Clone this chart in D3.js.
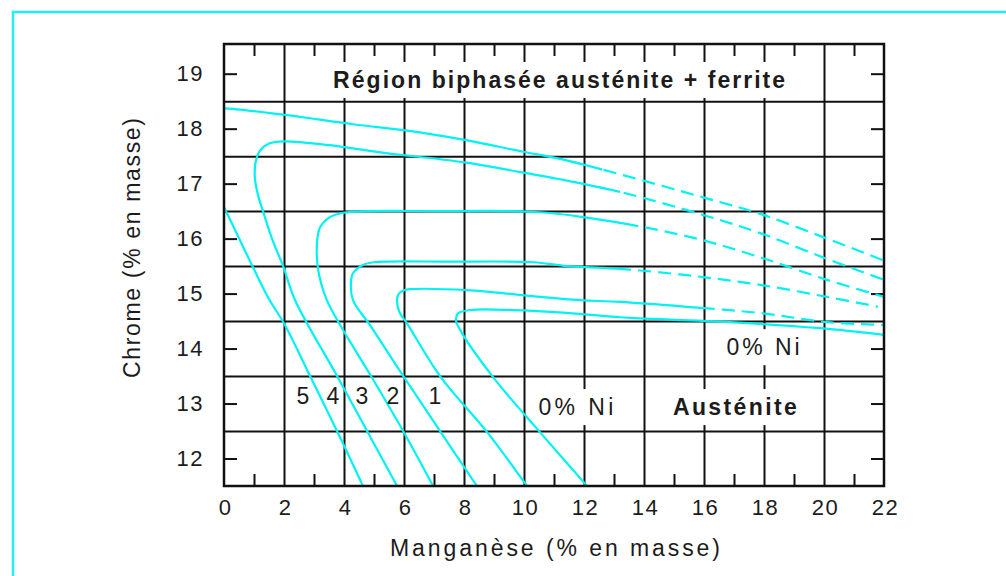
<!DOCTYPE html>
<html>
<head>
<meta charset="utf-8">
<title>Chrome - Manganèse</title>
<script src="https://cdn.jsdelivr.net/npm/d3@7"></script>
<style>
  body { margin: 0; background: #fff; }
  svg text { font-family: "Liberation Sans", Arial, sans-serif; fill: #1c1c1c; }
</style>
</head>
<body>
<script>
// axis values
var mnLabels = [0, 2, 4, 6, 8, 10, 12, 14, 16, 18, 20, 22];
var mnMinor = [1, 3, 5, 7, 9, 11, 13, 15, 17, 19, 21];
var mnGrid = [2, 4, 6, 8, 10, 12, 14, 16, 18, 20];
var crLabels = [12, 13, 14, 15, 16, 17, 18, 19];
var crGrid = [12.5, 13.5, 14.5, 15.5, 16.5, 17.5, 18.5];

// iso-nickel curves, [Mn, Cr] (5% Ni nose lies left of the frame)
var ni5 = [[4.63, 11.5], [3.9, 12.35], [2.87, 13.5], [2.03, 14.43], [1.5, 14.9], [0.93, 15.52], [0, 16.57],
  [-0.7, 17.3], [-0.9, 17.95], [-0.5, 18.36], [0, 18.37], [2.03, 18.25], [4.3, 18.08], [6.3, 17.95], [7.97, 17.8],
  [9.97, 17.58], [11.2, 17.45], [13.2, 17.17], [15.97, 16.75], [17.87, 16.45], [20.1, 16.0], [22, 15.6]];
var ni4 = [[5.77, 11.5], [4.77, 12.5], [3.77, 13.5], [2.37, 14.88], [1.97, 15.5], [1.6, 16.0], [1.3, 16.5],
  [1.13, 16.8], [1.03, 17.1], [1.05, 17.38], [1.2, 17.6], [1.5, 17.73], [2.0, 17.77], [3.5, 17.7],
  [5.2, 17.57], [7.97, 17.39], [9.97, 17.2], [11.2, 17.08], [13.2, 16.85], [15.97, 16.43],
  [17.87, 16.1], [20.1, 15.63], [22, 15.25]];
var ni3 = [[6.97, 11.5], [5.97, 12.5], [4.9, 13.5], [3.9, 14.4], [3.43, 14.88], [3.15, 15.4], [3.1, 15.92],
  [3.2, 16.2], [3.53, 16.39], [3.97, 16.47], [4.87, 16.5], [7, 16.5], [9.5, 16.5], [10.77, 16.47],
  [11.97, 16.39], [13.97, 16.21], [15.97, 15.97], [17.87, 15.66], [20.1, 15.25], [22, 14.94]];
var ni2 = [[8.43, 11.5], [7.2, 12.5], [6.0, 13.48], [4.9, 14.4], [4.3, 14.88], [4.23, 15.19], [4.3, 15.37],
  [4.63, 15.52], [5.0, 15.57], [7.5, 15.58], [10.3, 15.57], [11.43, 15.5], [12.53, 15.47],
  [13.87, 15.42], [15.97, 15.3], [17.97, 15.15], [20.1, 14.94], [21.8, 14.76]];
var ni1 = [[10.1, 11.5], [8.77, 12.48], [7.2, 13.5], [6.1, 14.46], [5.85, 14.66], [5.77, 14.9], [5.83, 15.0],
  [6.0, 15.06], [6.2, 15.08], [8.2, 15.06], [9.43, 15.0], [10.53, 14.94], [11.87, 14.88],
  [13.2, 14.85], [15.43, 14.76], [17.97, 14.64], [20.1, 14.48], [22, 14.43]];
var ni0 = [[12.1, 11.5], [10.53, 12.48], [8.97, 13.48], [7.87, 14.34], [7.73, 14.52], [7.8, 14.64],
  [8.2, 14.7], [9.63, 14.7], [11.43, 14.65], [13.2, 14.57], [13.87, 14.55], [16.87, 14.48],
  [19.87, 14.37], [22, 14.25]];
var curves = [ni5, ni4, ni3, ni2, ni1, ni0];
// Mn value where each curve turns dashed (null = solid all along)
var dashFrom = [12.6, 13.2, 13.8, 13.5, 16.0, null];

var niNames = ["5", "4", "3", "2", "1", "0% Ni"];

var svg = d3.select("body").append("svg")
  .attr("width", 1006).attr("height", 576);

// outer cyan frame
svg.append("rect")
  .attr("x", 13).attr("y", 12).attr("width", 1010).attr("height", 600)
  .attr("fill", "none").attr("stroke", "#22f0f0").attr("stroke-width", 2.5);

var x = d3.scaleLinear().domain([0, 22]).range([224, 884]);
var y = d3.scaleLinear().domain([11.5, 19.54]).range([486, 44]);
var pTop = y(19.54), pBottom = y(11.5), pLeft = x(0), pRight = x(22);

function styleAxis(g) {
  g.select(".domain").remove();
  g.selectAll("line").attr("stroke", "#111").attr("stroke-width", 2);
  g.attr("font-family", null).attr("font-size", null);
  g.selectAll("text").style("font-size", "22px").attr("letter-spacing", 1.5).attr("fill", "#1c1c1c");
}

// grid
svg.append("g").attr("transform", "translate(0," + pBottom + ")")
  .call(d3.axisBottom(x).tickValues(mnGrid).tickSize(-(pBottom - pTop)).tickFormat(""))
  .call(styleAxis);
svg.append("g").attr("transform", "translate(" + pLeft + ",0)")
  .call(d3.axisLeft(y).tickValues(crGrid).tickSize(-(pRight - pLeft)).tickFormat(""))
  .call(styleAxis);

// minor / integer ticks
svg.append("g").attr("transform", "translate(0," + pBottom + ")")
  .call(d3.axisBottom(x).tickValues(mnMinor).tickSize(-12).tickFormat(""))
  .call(styleAxis);
svg.append("g").attr("transform", "translate(0," + pTop + ")")
  .call(d3.axisTop(x).tickValues(mnMinor).tickSize(-12).tickFormat(""))
  .call(styleAxis);
svg.append("g").attr("transform", "translate(" + pLeft + ",0)")
  .call(d3.axisLeft(y).tickValues(crLabels).tickSize(-13).tickPadding(20))
  .call(styleAxis);
svg.append("g").attr("transform", "translate(" + pRight + ",0)")
  .call(d3.axisRight(y).tickValues(crLabels).tickSize(-13).tickFormat(""))
  .call(styleAxis);
svg.append("g").attr("transform", "translate(0," + pBottom + ")")
  .call(d3.axisBottom(x).tickValues(mnLabels).tickSize(0).tickPadding(13))
  .call(styleAxis)
  .selectAll("text").attr("dx", 1);

// label boxes go under the curves, text goes on top
var boxLayer = svg.append("g");
var curveLayer = svg.append("g");
var textLayer = svg.append("g");

var defs = svg.append("defs");
defs.append("clipPath").attr("id", "plot").append("rect")
  .attr("x", pLeft).attr("y", pTop).attr("width", pRight - pLeft).attr("height", pBottom - pTop);

var line = d3.line()
  .x(function (d) { return x(d[0]); })
  .y(function (d) { return y(d[1]); })
  .curve(d3.curveCatmullRom.alpha(0.5));

curves.forEach(function (pts, i) {
  var cut = dashFrom[i] === null ? 22 : dashFrom[i];
  defs.append("clipPath").attr("id", "solid" + i).append("rect")
    .attr("x", pLeft - 40).attr("y", pTop).attr("width", x(cut) - pLeft + 40).attr("height", pBottom - pTop);
  defs.append("clipPath").attr("id", "dash" + i).append("rect")
    .attr("x", x(cut)).attr("y", pTop).attr("width", pRight - x(cut)).attr("height", pBottom - pTop);

  var g = curveLayer.append("g").attr("clip-path", "url(#plot)");
  g.append("path").datum(pts)
    .attr("d", line).attr("fill", "none")
    .attr("stroke", "#00f2f2").attr("stroke-width", 2.2)
    .attr("clip-path", "url(#solid" + i + ")");
  if (dashFrom[i] !== null) {
    g.append("path").datum(pts)
      .attr("d", line).attr("fill", "none")
      .attr("stroke", "#00f2f2").attr("stroke-width", 2.2)
      .attr("stroke-dasharray", "13,7")
      .attr("clip-path", "url(#dash" + i + ")");
  }
});

// plot frame
svg.append("rect")
  .attr("x", pLeft).attr("y", pTop).attr("width", pRight - pLeft).attr("height", pBottom - pTop)
  .attr("fill", "none").attr("stroke", "#111").attr("stroke-width", 2.5);

// annotations: [text, Mn, Cr, bold, width, white box]
var notes = [
  ["Région biphasée austénite + ferrite", 11.17, 18.74, true, 452, true],
  ["Austénite", 17.03, 12.79, true, 124, true],
  [niNames[5], 11.73, 12.79, false, 75, true],
  [niNames[5], 17.97, 13.88, false, 73, true],
  [niNames[0], 2.63, 12.99, false, 0, false],
  [niNames[1], 3.63, 12.99, false, 0, false],
  [niNames[2], 4.6, 12.99, false, 0, false],
  [niNames[3], 5.63, 12.99, false, 0, false],
  [niNames[4], 7.03, 12.99, false, 0, false]
];

notes.forEach(function (n) {
  var t = textLayer.append("text")
    .attr("x", x(n[1])).attr("y", y(n[2]))
    .attr("text-anchor", "middle")
    .style("font-size", "23px")
    .style("font-weight", n[3] ? "bold" : "normal")
    .text(n[0]);
  if (n[4]) t.attr("textLength", n[4]).attr("lengthAdjust", "spacing");
  if (n[5]) {
    var b = t.node().getBBox();
    boxLayer.append("rect")
      .attr("x", b.x - 8).attr("y", b.y - 5)
      .attr("width", b.width + 16).attr("height", b.height + 10)
      .attr("fill", "#fff");
  }
});

// axis titles
svg.append("text")
  .attr("x", 555).attr("y", 556)
  .attr("text-anchor", "middle")
  .attr("textLength", 330).attr("lengthAdjust", "spacing")
  .style("font-size", "23px")
  .text("Manganèse (% en masse)");

svg.append("text")
  .attr("transform", "translate(140,248) rotate(-90)")
  .attr("text-anchor", "middle")
  .attr("textLength", 260).attr("lengthAdjust", "spacing")
  .style("font-size", "23px")
  .text("Chrome (% en masse)");
</script>
</body>
</html>
